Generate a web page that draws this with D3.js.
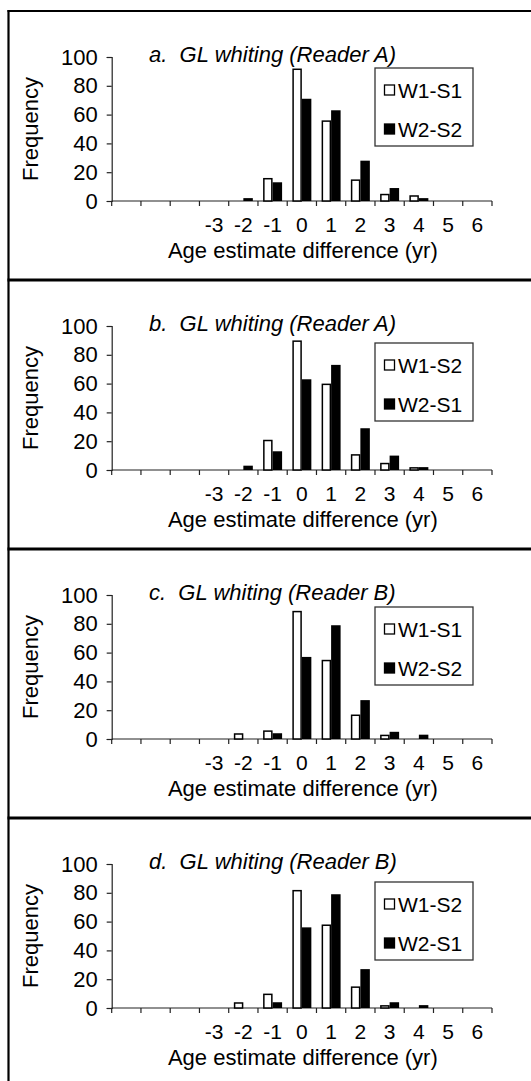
<!DOCTYPE html>
<html><head><meta charset="utf-8">
<script src="https://cdn.jsdelivr.net/npm/d3@7"></script>
<style>body{margin:0;background:#fff}svg{display:block}text{font-family:"Liberation Sans",Arial,sans-serif;fill:#000}</style>
</head><body><div id="c"></div>
<script>
// ---- data ----
const categories = [-6,-5,-4,-3,-2,-1,0,1,2,3,4,5,6];
const tickLabels = ["","","","-3","-2","-1","0","1","2","3","4","5","6"];
const yTicks = [0,20,40,60,80,100];
const panelTitles = ["a.  GL whiting (Reader A)","b.  GL whiting (Reader A)","c.  GL whiting (Reader B)","d.  GL whiting (Reader B)"];
const seriesNamesA = ["W1-S1","W2-S2"];
const seriesNamesB = ["W1-S2","W2-S1"];
const panelA_W1S1 = [0,0,0,0,0,16,92,56,15,5,4,0,0];
const panelA_W2S2 = [0,0,0,0,2,13,71,63,28,9,2,0,0];
const panelB_W1S2 = [0,0,0,0,0,21,90,60,11,5,2,0,0];
const panelB_W2S1 = [0,0,0,0,3,13,63,73,29,10,2,0,0];
const panelC_W1S1 = [0,0,0,0,4,6,89,55,17,3,0,0,0];
const panelC_W2S2 = [0,0,0,0,0,4,57,79,27,5,3,0,0];
const panelD_W1S2 = [0,0,0,0,4,10,82,58,15,2,0,0,0];
const panelD_W2S1 = [0,0,0,0,0,4,56,79,27,4,2,0,0];
const xTitle = "Age estimate difference (yr)";
const yTitle = "Frequency";

const panels = [
  {title: panelTitles[0], names: seriesNamesA, s: [panelA_W1S1, panelA_W2S2], legDy: 0},
  {title: panelTitles[1], names: seriesNamesB, s: [panelB_W1S2, panelB_W2S1], legDy: 6},
  {title: panelTitles[2], names: seriesNamesA, s: [panelC_W1S1, panelC_W2S2], legDy: 1},
  {title: panelTitles[3], names: seriesNamesB, s: [panelD_W1S2, panelD_W2S1], legDy: 7}
];

// ---- layout ----
const W = 531, H = 1081, step = 269, top0 = 11;
const svg = d3.select("#c").append("svg").attr("width", W).attr("height", H);

const x = d3.scaleBand().domain(categories).range([111.7, 492]).paddingInner(0).paddingOuter(0);
const xs = d3.scaleBand().domain([0,1]).range([0, x.bandwidth()]).paddingInner(0).paddingOuter(0.54);

// frame left border
svg.append("line").attr("x1", 8.5).attr("x2", 8.5).attr("y1", top0 - 1).attr("y2", H)
  .attr("stroke", "#000").attr("stroke-width", 2.2);

const labelled = categories.map((c, j) => ({c, t: tickLabels[j]})).filter(d => d.t !== "");

panels.forEach((p, i) => {
  const T = top0 + step * i;
  const y0 = T + 190;
  const y = d3.scaleLinear().domain([0, 100]).range([y0, y0 - 144]);
  const g = svg.append("g");

  // top frame line
  g.append("line").attr("x1", 7.5).attr("x2", W).attr("y1", T).attr("y2", T)
    .attr("stroke", "#000").attr("stroke-width", i === 0 ? 2 : 2.8);

  // y axis
  const ya = g.append("g").attr("transform", `translate(${x.range()[0]},0)`)
    .call(d3.axisLeft(y).tickValues(yTicks).tickSize(5).tickPadding(9));
  ya.select(".domain").attr("stroke", "#222").attr("stroke-width", 1.2);
  ya.selectAll(".tick line").attr("stroke", "#222").attr("stroke-width", 1.2);
  ya.selectAll(".tick text").attr("font-size", 22).attr("font-family", '"Liberation Sans",Arial,sans-serif');

  // x axis: tick marks at band boundaries
  const bounds = categories.map(c => x(c)).concat([x.range()[1]]);
  g.append("line").attr("x1", x.range()[0]).attr("x2", x.range()[1]).attr("y1", y0).attr("y2", y0)
    .attr("stroke", "#222").attr("stroke-width", 1.2);
  g.selectAll(".xt").data(bounds).join("line").attr("class", "xt")
    .attr("x1", d => d).attr("x2", d => d).attr("y1", y0).attr("y2", y0 + 5)
    .attr("stroke", "#222").attr("stroke-width", 1.2);
  // x labels
  g.selectAll(".xl").data(labelled).join("text").attr("class", "xl")
    .attr("x", d => x(d.c) + x.bandwidth() / 2).attr("y", y0 + 31)
    .attr("text-anchor", "middle").attr("font-size", 21)
    .text(d => d.t);

  // bars
  p.s.forEach((vals, k) => {
    g.selectAll(".b" + k).data(vals).join("rect").attr("class", "b" + k)
      .attr("x", (d, j) => x(categories[j]) + xs(k) + (k === 0 ? 0.75 : 0))
      .attr("width", xs.bandwidth() - (k === 0 ? 1.5 : 0))
      .attr("y", d => y(d) + (k === 0 ? 0.75 : 0))
      .attr("height", d => Math.max(0, y0 - y(d) - (k === 0 ? 0.75 : 0)))
      .attr("fill", k === 0 ? "#fff" : "#000")
      .attr("stroke", "#000").attr("stroke-width", k === 0 ? 1.5 : 0)
      .style("display", d => d > 0 ? null : "none");
  });

  // titles
  g.append("text").attr("x", 149).attr("y", T + 51).attr("font-size", 22)
    .attr("font-style", "italic").style("white-space", "pre").text(p.title);
  g.append("text").attr("x", x.range()[1] / 2 + x.range()[0] / 2 + 1).attr("y", y0 + 57)
    .attr("text-anchor", "middle").attr("font-size", 22).text(xTitle);
  g.append("text").attr("transform", `translate(38,${y0 - 72}) rotate(-90)`)
    .attr("text-anchor", "middle").attr("font-size", 22).text(yTitle);

  // legend
  const LT = T + 57 + p.legDy;
  const lg = g.append("g").attr("transform", `translate(375,${LT})`);
  lg.append("rect").attr("x", 0).attr("y", 0).attr("width", 98).attr("height", 78)
    .attr("fill", "#fff").attr("stroke", "#333").attr("stroke-width", 1.3);
  p.names.forEach((n, k) => {
    const cy = k === 0 ? 22 : 61;
    lg.append("rect").attr("x", 9.5).attr("y", cy - 5).attr("width", 10).attr("height", 10)
      .attr("fill", k === 0 ? "#fff" : "#000").attr("stroke", "#000").attr("stroke-width", 1.3);
    lg.append("text").attr("x", 23).attr("y", cy + 7.5).attr("font-size", 21).text(n);
  });
});
</script></body></html>
